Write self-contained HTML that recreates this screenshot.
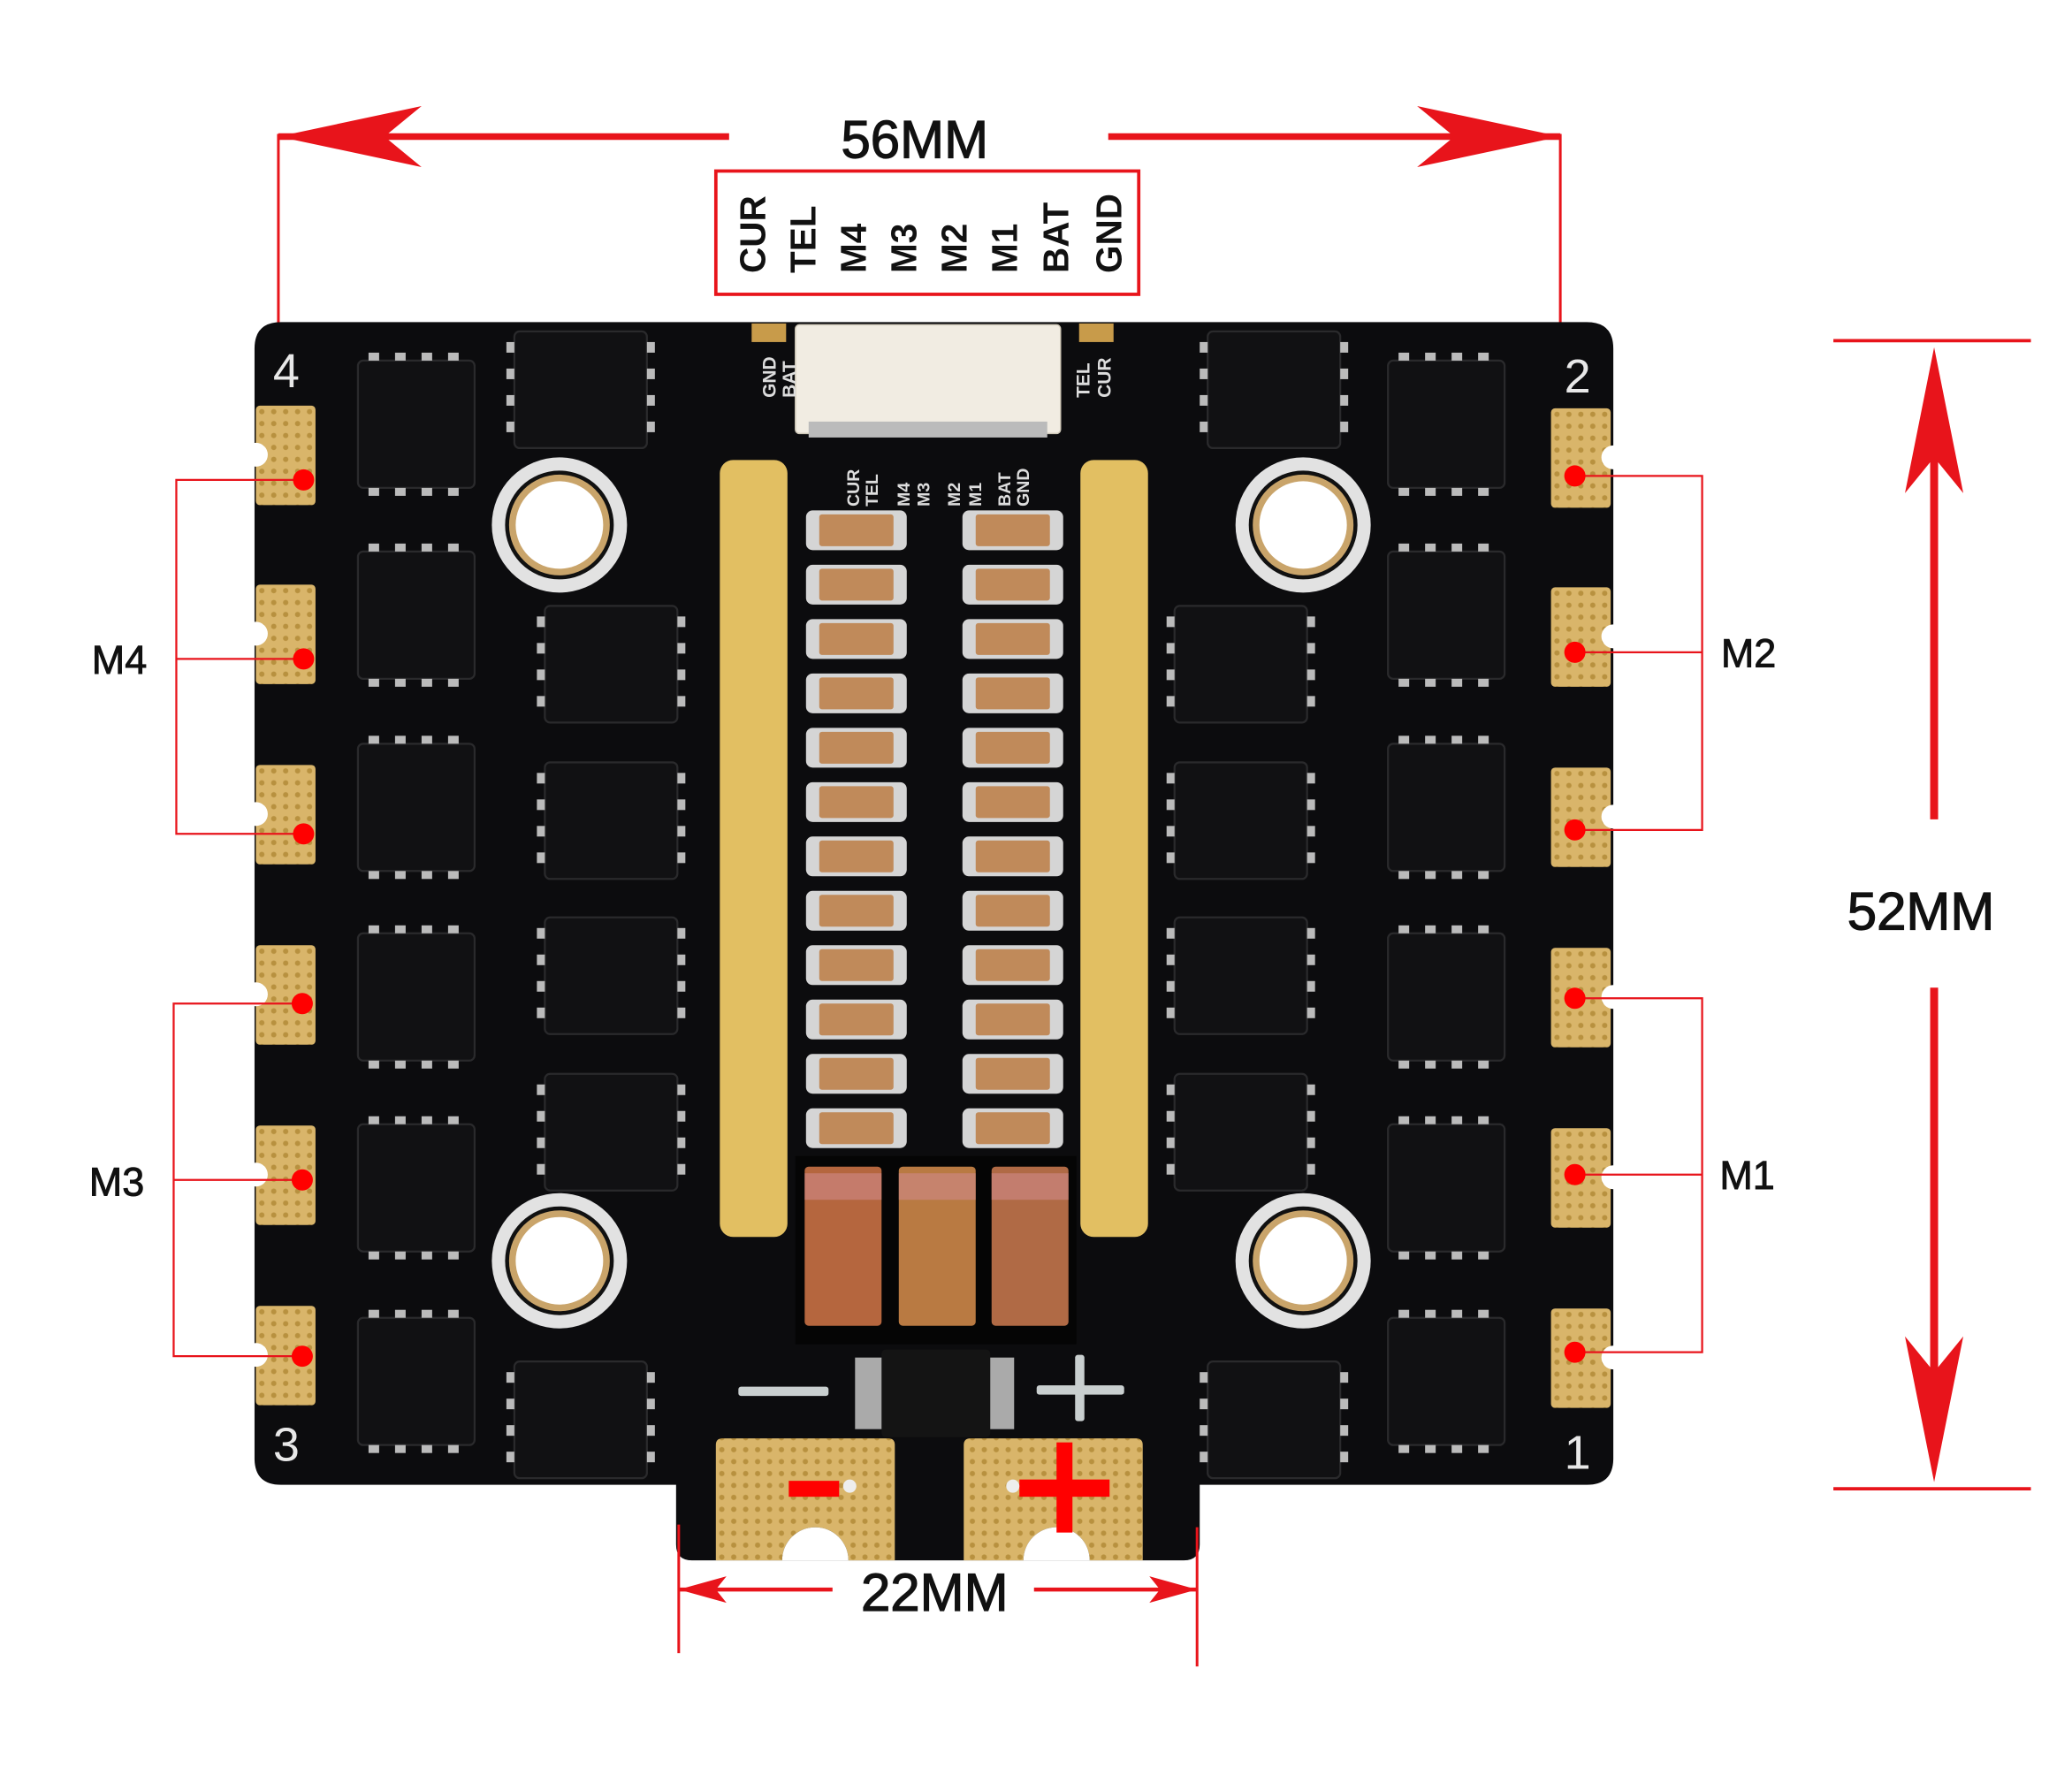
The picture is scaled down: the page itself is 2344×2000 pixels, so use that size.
<!DOCTYPE html>
<html><head><meta charset="utf-8"><style>
html,body{margin:0;padding:0;background:#fff;}
svg{display:block}
text{font-family:"Liberation Sans","DejaVu Sans",sans-serif;}
</style></head><body>
<svg width="2344" height="2000" viewBox="0 0 1563 1333.6" xmlns="http://www.w3.org/2000/svg">
<defs>
  <g id="fet">
    <rect x="0" y="6" width="88" height="96" rx="4" fill="#111113" stroke="#2a2a2c" stroke-width="1.5"/>
    <rect x="8" y="0" width="8" height="6" fill="#bbb"/><rect x="28" y="0" width="8" height="6" fill="#bbb"/><rect x="48" y="0" width="8" height="6" fill="#bbb"/><rect x="68" y="0" width="8" height="6" fill="#bbb"/>
    <rect x="8" y="102" width="8" height="6" fill="#bbb"/><rect x="28" y="102" width="8" height="6" fill="#bbb"/><rect x="48" y="102" width="8" height="6" fill="#bbb"/><rect x="68" y="102" width="8" height="6" fill="#bbb"/>
  </g>
  <g id="fetH">
    <rect x="6" y="0" width="100" height="88" rx="4" fill="#111113" stroke="#2a2a2c" stroke-width="1.5"/>
    <rect x="0" y="8" width="6" height="8" fill="#bbb"/><rect x="0" y="28" width="6" height="8" fill="#bbb"/><rect x="0" y="48" width="6" height="8" fill="#bbb"/><rect x="0" y="68" width="6" height="8" fill="#bbb"/>
    <rect x="106" y="8" width="6" height="8" fill="#bbb"/><rect x="106" y="28" width="6" height="8" fill="#bbb"/><rect x="106" y="48" width="6" height="8" fill="#bbb"/><rect x="106" y="68" width="6" height="8" fill="#bbb"/>
  </g>
  <pattern id="dots" width="9" height="9" patternUnits="userSpaceOnUse">
    <rect width="9" height="9" fill="#d9b56a"/><circle cx="4.5" cy="4.5" r="2" fill="#b8913f"/>
  </pattern>
  <g id="padL">
    <rect x="0" y="0" width="45" height="75" rx="3" fill="url(#dots)"/>
    <circle cx="0" cy="37" r="9" fill="#fff"/>
  </g>
  <g id="padR">
    <rect x="0" y="0" width="45" height="75" rx="3" fill="url(#dots)"/>
    <circle cx="47" cy="37" r="9" fill="#fff"/>
  </g>
  <g id="cap">
    <rect x="0" y="0" width="76" height="30" rx="5" fill="#d5d5d5"/>
    <rect x="10" y="3" width="56" height="24" rx="2" fill="#c08a5a"/>
  </g>
  <g id="hole">
    <circle r="51" fill="#e2e2e2"/><circle r="41" fill="#111"/><circle r="38" fill="#c9a46a"/><circle r="33" fill="#fff"/>
  </g>
</defs>

<!-- top dimension -->
<line x1="210" y1="103" x2="550" y2="103" stroke="#e8141b" stroke-width="5"/>
<polygon points="210,103 318,80 290,103 318,126" fill="#e8141b"/>
<line x1="836" y1="103" x2="1177" y2="103" stroke="#e8141b" stroke-width="5"/>
<polygon points="1177,103 1069,80 1097,103 1069,126" fill="#e8141b"/>
<line x1="210" y1="101" x2="210" y2="250" stroke="#e8141b" stroke-width="2"/>
<line x1="1177" y1="101" x2="1177" y2="250" stroke="#e8141b" stroke-width="2"/>
<text x="690" y="119" font-size="40" text-anchor="middle" fill="#111" stroke="#111" stroke-width="0.8">56MM</text>
<rect x="540" y="129" width="319" height="93" fill="none" stroke="#e8141b" stroke-width="2.5"/>
<g font-size="27" font-weight="bold" fill="#111">
  <text transform="translate(577,206) rotate(-90)">CUR</text>
  <text transform="translate(615,206) rotate(-90)">TEL</text>
  <text transform="translate(653,206) rotate(-90)">M4</text>
  <text transform="translate(691,206) rotate(-90)">M3</text>
  <text transform="translate(729,206) rotate(-90)">M2</text>
  <text transform="translate(767,206) rotate(-90)">M1</text>
  <text transform="translate(806,206) rotate(-90)">BAT</text>
  <text transform="translate(846,206) rotate(-90)">GND</text>
</g>

<!-- right dimension -->
<line x1="1383" y1="257" x2="1532" y2="257" stroke="#e8141b" stroke-width="2.5"/>
<line x1="1383" y1="1123" x2="1532" y2="1123" stroke="#e8141b" stroke-width="2.5"/>
<line x1="1459" y1="300" x2="1459" y2="618" stroke="#e8141b" stroke-width="6"/>
<polygon points="1459,262 1437,372 1459,345 1481,372" fill="#e8141b"/>
<line x1="1459" y1="745" x2="1459" y2="1080" stroke="#e8141b" stroke-width="6"/>
<polygon points="1459,1118 1437,1008 1459,1035 1481,1008" fill="#e8141b"/>
<text x="1449" y="701" font-size="40" text-anchor="middle" fill="#111" stroke="#111" stroke-width="0.8">52MM</text>

<!-- board -->
<path d="M212,243 H1197 Q1217,243 1217,263 V1100 Q1217,1120 1197,1120 H905 V1165 Q905,1177 893,1177 H522 Q510,1177 510,1165 V1120 H212 Q192,1120 192,1100 V263 Q192,243 212,243 Z" fill="#0c0c0e"/>
<g fill="#e8e8e8" font-size="36">
  <text x="206" y="292">4</text><text x="1180" y="296">2</text>
  <text x="206" y="1102">3</text><text x="1180" y="1108">1</text>
</g>

<!-- side pads -->
<use href="#padL" x="193" y="306"/><use href="#padL" x="193" y="441"/><use href="#padL" x="193" y="577"/>
<use href="#padL" x="193" y="713"/><use href="#padL" x="193" y="849"/><use href="#padL" x="193" y="985"/>
<use href="#padR" x="1170" y="308"/><use href="#padR" x="1170" y="443"/><use href="#padR" x="1170" y="579"/>
<use href="#padR" x="1170" y="715"/><use href="#padR" x="1170" y="851"/><use href="#padR" x="1170" y="987"/>

<!-- mosfets left outer -->
<use href="#fet" x="270" y="266"/><use href="#fet" x="270" y="410"/><use href="#fet" x="270" y="555"/>
<use href="#fet" x="270" y="698"/><use href="#fet" x="270" y="842"/><use href="#fet" x="270" y="988"/>
<!-- right outer -->
<use href="#fet" x="1047" y="266"/><use href="#fet" x="1047" y="410"/><use href="#fet" x="1047" y="555"/>
<use href="#fet" x="1047" y="698"/><use href="#fet" x="1047" y="842"/><use href="#fet" x="1047" y="988"/>
<!-- inner -->
<use href="#fetH" x="382" y="250"/><use href="#fetH" x="405" y="457"/><use href="#fetH" x="405" y="575"/>
<use href="#fetH" x="405" y="692"/><use href="#fetH" x="405" y="810"/><use href="#fetH" x="382" y="1027"/>
<use href="#fetH" x="905" y="250"/><use href="#fetH" x="880" y="457"/><use href="#fetH" x="880" y="575"/>
<use href="#fetH" x="880" y="692"/><use href="#fetH" x="880" y="810"/><use href="#fetH" x="905" y="1027"/>

<!-- holes -->
<use href="#hole" x="422" y="396"/><use href="#hole" x="983" y="396"/>
<use href="#hole" x="422" y="951"/><use href="#hole" x="983" y="951"/>

<!-- connector -->
<rect x="567" y="244" width="26" height="14" fill="#c89b4a"/><rect x="814" y="244" width="26" height="14" fill="#c89b4a"/>
<rect x="600" y="245" width="200" height="82" rx="3" fill="#f1ece2" stroke="#cfc8b8"/>
<rect x="610" y="318" width="180" height="12" fill="#bbb"/>
<g font-size="14" font-weight="bold" fill="#ddd">
  <text transform="translate(585,300) rotate(-90)">GND</text><text transform="translate(600,300) rotate(-90)">BAT</text>
  <text transform="translate(822,300) rotate(-90)">TEL</text><text transform="translate(838,300) rotate(-90)">CUR</text>
</g>
<g font-size="13" font-weight="bold" fill="#ddd">
  <text transform="translate(648,382) rotate(-90)">CUR</text><text transform="translate(662,382) rotate(-90)">TEL</text>
  <text transform="translate(686,382) rotate(-90)">M4</text><text transform="translate(701,382) rotate(-90)">M3</text>
  <text transform="translate(724,382) rotate(-90)">M2</text><text transform="translate(740,382) rotate(-90)">M1</text>
  <text transform="translate(762,382) rotate(-90)">BAT</text><text transform="translate(776,382) rotate(-90)">GND</text>
</g>

<!-- gold bars -->
<rect x="543" y="347" width="51" height="586" rx="10" fill="#e2bf62"/>
<rect x="815" y="347" width="51" height="586" rx="10" fill="#e2bf62"/>

<!-- caps -->
<g>
<use href="#cap" x="608" y="385"/><use href="#cap" x="608" y="426"/><use href="#cap" x="608" y="467"/><use href="#cap" x="608" y="508"/>
<use href="#cap" x="608" y="549"/><use href="#cap" x="608" y="590"/><use href="#cap" x="608" y="631"/><use href="#cap" x="608" y="672"/>
<use href="#cap" x="608" y="713"/><use href="#cap" x="608" y="754"/><use href="#cap" x="608" y="795"/><use href="#cap" x="608" y="836"/>
<use href="#cap" x="726" y="385"/><use href="#cap" x="726" y="426"/><use href="#cap" x="726" y="467"/><use href="#cap" x="726" y="508"/>
<use href="#cap" x="726" y="549"/><use href="#cap" x="726" y="590"/><use href="#cap" x="726" y="631"/><use href="#cap" x="726" y="672"/>
<use href="#cap" x="726" y="713"/><use href="#cap" x="726" y="754"/><use href="#cap" x="726" y="795"/><use href="#cap" x="726" y="836"/>
</g>

<!-- shunts -->
<rect x="600" y="872" width="212" height="142" fill="#050505"/>
<rect x="607" y="880" width="58" height="120" rx="3" fill="#b5663e"/>
<rect x="678" y="880" width="58" height="120" rx="3" fill="#b97a42"/>
<rect x="748" y="880" width="58" height="120" rx="3" fill="#b06a45"/>
<g fill="#d08a8a" opacity="0.6"><rect x="607" y="885" width="58" height="20"/><rect x="678" y="885" width="58" height="20"/><rect x="748" y="885" width="58" height="20"/></g>

<!-- diode & silkscreen -->
<rect x="645" y="1024" width="120" height="54" fill="#aaa"/>
<rect x="665" y="1018" width="82" height="66" rx="3" fill="#141414"/>
<rect x="557" y="1046" width="68" height="7" rx="2" fill="#c9cfcf"/>
<rect x="782" y="1045" width="66" height="7" rx="2" fill="#c9cfcf"/>
<rect x="811" y="1022" width="7" height="50" rx="2" fill="#c9cfcf"/>

<!-- bottom pads -->
<path d="M540,1090 Q540,1085 545,1085 H670 Q675,1085 675,1090 V1177 H640 A25,25 0 0 0 590,1177 H540 Z" fill="url(#dots)"/>
<path d="M727,1090 Q727,1085 732,1085 H857 Q862,1085 862,1090 V1177 H822 A25,25 0 0 0 772,1177 H727 Z" fill="url(#dots)"/>
<path d="M590,1177 A25,25 0 0 1 640,1177 Z" fill="#fff"/>
<path d="M772,1177 A25,25 0 0 1 822,1177 Z" fill="#fff"/>
<rect x="595" y="1117" width="38" height="12" fill="#f00"/>
<rect x="769" y="1116" width="68" height="13" fill="#f00"/>
<rect x="797" y="1088" width="12" height="68" fill="#f00"/>
<circle cx="641" cy="1121" r="5" fill="#eee"/><circle cx="764" cy="1121" r="5" fill="#eee"/>

<!-- 22MM dimension -->
<line x1="512" y1="1150" x2="512" y2="1247" stroke="#e8141b" stroke-width="2"/>
<line x1="903" y1="1152" x2="903" y2="1257" stroke="#e8141b" stroke-width="2"/>
<line x1="512" y1="1199" x2="628" y2="1199" stroke="#e8141b" stroke-width="3"/>
<line x1="780" y1="1199" x2="903" y2="1199" stroke="#e8141b" stroke-width="3"/>
<polygon points="512,1199 548,1189 540,1199 548,1209" fill="#e8141b"/>
<polygon points="903,1199 867,1189 875,1199 867,1209" fill="#e8141b"/>
<text x="705" y="1215" font-size="40" text-anchor="middle" fill="#111" stroke="#111" stroke-width="0.8">22MM</text>

<!-- motor brackets -->
<g stroke="#e8141b" stroke-width="1.5" fill="none">
  <path d="M229,362 H133 V629 H229 M133,497 H229"/>
  <path d="M228,757 H131 V1023 H228 M131,890 H228"/>
  <path d="M1188,359 H1284 V626 H1188 M1284,492 H1188"/>
  <path d="M1188,753 H1284 V1020 H1188 M1284,886 H1188"/>
</g>
<g fill="#f00">
  <circle cx="229" cy="362" r="8"/><circle cx="229" cy="497" r="8"/><circle cx="229" cy="629" r="8"/>
  <circle cx="228" cy="757" r="8"/><circle cx="228" cy="890" r="8"/><circle cx="228" cy="1023" r="8"/>
  <circle cx="1188" cy="359" r="8"/><circle cx="1188" cy="492" r="8"/><circle cx="1188" cy="626" r="8"/>
  <circle cx="1188" cy="753" r="8"/><circle cx="1188" cy="886" r="8"/><circle cx="1188" cy="1020" r="8"/>
</g>
<g font-size="30" fill="#111" text-anchor="middle" stroke="#111" stroke-width="0.6">
  <text x="90" y="508">M4</text><text x="88" y="902">M3</text>
  <text x="1319" y="503">M2</text><text x="1318" y="897">M1</text>
</g>
</svg>
</body></html>
